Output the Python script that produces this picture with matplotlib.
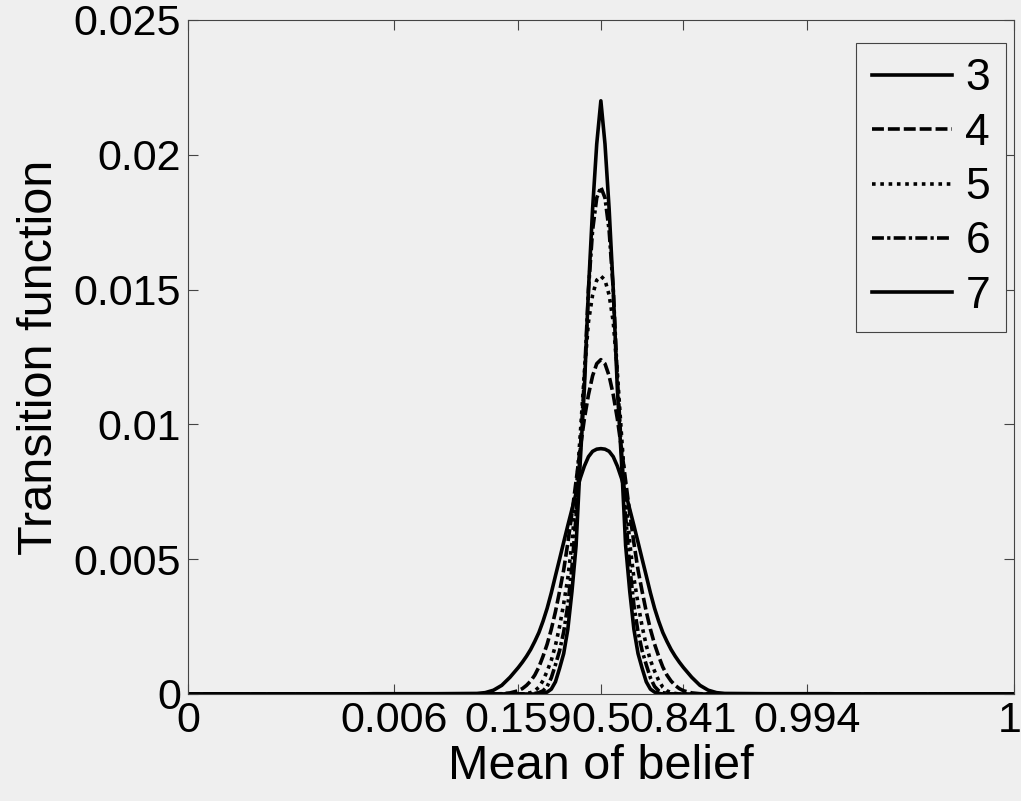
import numpy as np
from matplotlib import pyplot as plt
from matplotlib.transforms import ScaledTranslation

# half profile of each curve (z >= 0), mirrored to negative z below
z_half = [0, 0.05, 0.1, 0.15, 0.2, 0.25, 0.3, 0.35, 0.4, 0.45, 0.5, 0.55, 0.6, 0.65,
          0.7, 0.75, 0.8, 0.85, 0.9, 0.95, 1.0, 1.1, 1.2, 1.3, 1.4, 1.5, 2.0, 2.75, 3.0, 5.0]

curve_3 = [0.0091, 0.00908, 0.0090, 0.0088, 0.00845, 0.0080, 0.00745, 0.00685, 0.00625, 0.00563,
           0.0050, 0.00438, 0.00375, 0.00318, 0.0027, 0.00228, 0.00195, 0.00165, 0.0014, 0.00118,
           0.00098, 0.00062, 0.00032, 0.00014, 0.00005, 0.00002, 0.00001, 0.00001, 0, 0]
curve_4 = [0.0124, 0.01225, 0.0118, 0.0111, 0.0102, 0.0091, 0.0079, 0.0067, 0.0056, 0.0046,
           0.0038, 0.00305, 0.0024, 0.00185, 0.0014, 0.0010, 0.0007, 0.00048, 0.00032, 0.0002,
           0.00012, 0.00004, 0.00001, 0, 0, 0, 0, 0, 0, 0]
curve_5 = [0.0155, 0.01535, 0.0148, 0.0138, 0.0119, 0.0096, 0.0074, 0.0056, 0.0043, 0.00335,
           0.0025, 0.0018, 0.00125, 0.00085, 0.0005, 0.00025, 0.00012, 0.00005, 0.00002, 0,
           0, 0, 0, 0, 0, 0, 0, 0, 0, 0]
curve_6 = [0.0188, 0.0184, 0.0172, 0.0150, 0.0117, 0.0090, 0.0066, 0.0047, 0.0033, 0.0023,
           0.0016, 0.00108, 0.0006, 0.00028, 0.00012, 0.00005, 0.00002, 0, 0, 0,
           0, 0, 0, 0, 0, 0, 0, 0, 0, 0]
curve_7 = [0.0220, 0.0204, 0.0180, 0.0150, 0.0113, 0.0086, 0.0055, 0.0038, 0.0024, 0.0015,
           0.00095, 0.00045, 0.00018, 0.00007, 0.00002, 0, 0, 0, 0, 0,
           0, 0, 0, 0, 0, 0, 0, 0, 0, 0]

labels = ["3", "4", "5", "6", "7"]
tick_pos = [-5, -2.5, -1, 0, 1, 2.5, 5]
tick_labels = ["0", "0.006", "0.159", "0.5", "0.841", "0.994", "1"]
ytick_vals = [0, 0.005, 0.01, 0.015, 0.02, 0.025]
ytick_labels = ["0", "0.005", "0.01", "0.015", "0.02", "0.025"]


def mirror(half):
    half = np.array(half)
    return np.concatenate([half[:0:-1], half])


z = np.concatenate([-np.array(z_half)[:0:-1], np.array(z_half)])

plt.rcParams['font.family'] = ['Liberation Sans', 'DejaVu Sans']
bg = '#efefef'
fig = plt.figure(figsize=(10.21, 8.01), dpi=100, facecolor=bg)
ax = fig.add_axes([0.184, 0.1336, 0.809, 0.8415])
ax.set_facecolor(bg)

styles = ['-', (0, (3.3, 1.1)), (0, (1, 1.3)), (0, (3.3, 0.9, 0.9, 0.9)), '-']
all_curves = [curve_3, curve_4, curve_5, curve_6, curve_7]
for vals, ls, lab in zip(all_curves, styles, labels):
    ax.plot(z, mirror(vals), color='black', linestyle=ls, linewidth=2.6, label=lab)

ax.set_xlim(-5, 5)
ax.set_ylim(0, 0.025)
ax.set_xticks(tick_pos)
ax.set_xticklabels(tick_labels)
ax.set_yticks(ytick_vals)
ax.set_yticklabels(ytick_labels)
ax.tick_params(direction='in', length=7, width=0.8, top=True, right=True,
               labelsize=31, pad=5, color='#444444')
for sp in ax.spines.values():
    sp.set_color('#444444')
    sp.set_linewidth(0.8)

# the last label sits at the figure edge, nudge it in a bit
last = ax.get_xticklabels()[-1]
last.set_transform(last.get_transform() + ScaledTranslation(-4 / 100, 0, fig.dpi_scale_trans))

ax.set_xlabel("Mean of belief", fontsize=35, labelpad=2)
ax.set_ylabel("Transition function", fontsize=35, labelpad=8)

leg = ax.legend(loc='upper right', bbox_to_anchor=(0.990, 0.966), fontsize=32,
                handlelength=1.8, handletextpad=0.3, labelspacing=0.3, borderpad=0.35,
                borderaxespad=0, fancybox=False, framealpha=1, facecolor=bg,
                edgecolor='#444444')
leg.get_frame().set_linewidth(0.8)

plt.savefig('out.png', dpi=100, facecolor=bg)
